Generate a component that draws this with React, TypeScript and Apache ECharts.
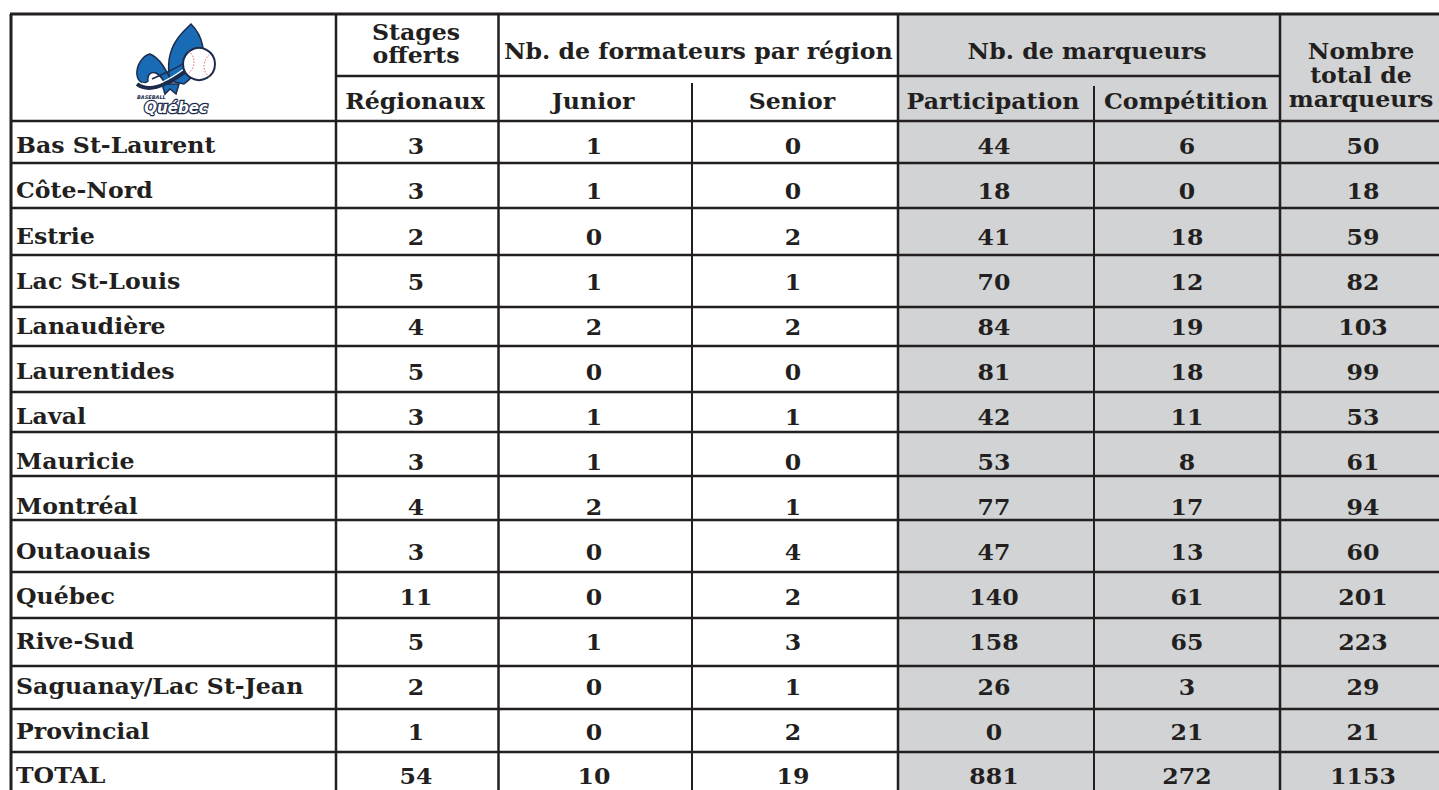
import React, { useEffect, useRef } from 'react';
import * as echarts from 'echarts';

// ---------- data ----------
const regions = [
  'Bas St-Laurent', 'Côte-Nord', 'Estrie', 'Lac St-Louis', 'Lanaudière', 'Laurentides', 'Laval',
  'Mauricie', 'Montréal', 'Outaouais', 'Québec', 'Rive-Sud', 'Saguanay/Lac St-Jean', 'Provincial',
];
const stagesRegionaux = [3, 3, 2, 5, 4, 5, 3, 3, 4, 3, 11, 5, 2, 1];
const formateursJunior = [1, 1, 0, 1, 2, 0, 1, 1, 2, 0, 0, 1, 0, 0];
const formateursSenior = [0, 0, 2, 1, 2, 0, 1, 0, 1, 4, 2, 3, 1, 2];
const marqueursParticipation = [44, 18, 41, 70, 84, 81, 42, 53, 77, 47, 140, 158, 26, 0];
const marqueursCompetition = [6, 0, 18, 12, 19, 18, 11, 8, 17, 13, 61, 65, 3, 21];
const nombreTotalMarqueurs = [50, 18, 59, 82, 103, 99, 53, 61, 94, 60, 201, 223, 29, 21];
const totalLabel = 'TOTAL';
const totalRow = [54, 10, 19, 881, 272, 1153];

const groupHeaders = ['Stages\nofferts', 'Nb. de formateurs par région', 'Nb. de marqueurs', 'Nombre\ntotal de\nmarqueurs'];
const subHeaders = ['Régionaux', 'Junior', 'Senior', 'Participation', 'Compétition'];

// ---------- layout ----------
const W = 1439;
const H = 790;
const INK = '#231f20';
const GREY = '#d1d3d4';
const NAVY = '#1c2b4b';
const BLUE = '#1a6bb5';
const FONT = 'bold 22px "DejaVu Serif", "Liberation Serif", serif';
const STRETCH = 1.075;

const TOP = 14;
const LEFT = 11;
const HEAD_MID = 76;
const rowLines = [121, 163, 208, 255, 307, 346, 392, 432, 476, 520, 572, 618, 666, 709, 752];
const rowTextY = [145, 190, 236, 281, 326, 371, 416, 461, 506, 551, 596, 641, 686, 731];
const totalTextY = 776;
const colX = [336, 498.5, 692, 898, 1094, 1280];
const colCenters = [416, 594, 793, 994, 1187, 1363];

function buildGraphic() {
  const els: any[] = [];
  // grey block
  els.push({ type: 'rect', shape: { x: colX[3], y: TOP, width: W - colX[3] + 20, height: H }, style: { fill: GREY }, silent: true });

  const line = (x1: number, y1: number, x2: number, y2: number, lw = 2.5) =>
    els.push({ type: 'line', shape: { x1, y1, x2, y2 }, style: { stroke: INK, lineWidth: lw }, silent: true });

  // outer border
  line(LEFT - 1, TOP, W + 5, TOP, 3);
  line(LEFT, TOP, LEFT, H + 5, 3);
  // header middle line
  line(colX[0], HEAD_MID, colX[5], HEAD_MID, 2.5);
  // row lines
  rowLines.forEach((y) => line(LEFT, y, W + 5, y, 2.5));
  // vertical lines
  line(colX[0], TOP, colX[0], H + 5);
  line(colX[1], TOP, colX[1], H + 5);
  line(colX[2], 83, colX[2], H + 5, 2);
  line(colX[3], TOP, colX[3], H + 5);
  line(colX[4], 86, colX[4], H + 5, 2);
  line(colX[5], TOP, colX[5], H + 5);

  const text = (t: string | number, x: number, y: number, align = 'center', lineHeight = 22) =>
    els.push({
      type: 'text',
      x, y, scaleX: STRETCH,
      style: {
        text: String(t), x: 0, y: 0, font: FONT, fill: INK,
        align, verticalAlign: 'middle', textAlign: align, textVerticalAlign: 'middle', lineHeight,
      },
      silent: true,
    });

  // headers
  text(groupHeaders[0], colCenters[0], 44, 'center', 23);
  text(groupHeaders[1], (colX[1] + colX[3]) / 2, 51);
  text(groupHeaders[2], (colX[3] + colX[5]) / 2 - 2, 51);
  text(groupHeaders[3], 1361, 75, 'center', 24);
  subHeaders.forEach((s, i) => text(s, colCenters[i] - 1, 101));

  // body
  const cols = [stagesRegionaux, formateursJunior, formateursSenior, marqueursParticipation, marqueursCompetition, nombreTotalMarqueurs];
  regions.forEach((r, i) => {
    text(r, 16, rowTextY[i], 'left');
    cols.forEach((c, j) => text(c[i], colCenters[j], rowTextY[i] + 1));
  });
  text(totalLabel, 16, totalTextY - 1, 'left');
  totalRow.forEach((v, j) => text(v, colCenters[j], totalTextY));

  // ---- logo ----
  els.push({ type: 'qcPetalC', style: { fill: BLUE, stroke: NAVY, lineWidth: 1.5 }, silent: true });
  els.push({ type: 'qcPetalL', style: { fill: BLUE, stroke: NAVY, lineWidth: 1.5 }, silent: true });
  els.push({ type: 'qcFoot', style: { fill: BLUE, stroke: NAVY, lineWidth: 1.5 }, silent: true });
  els.push({ type: 'bezierCurve', shape: { x1: 137, y1: 84, cpx1: 150, cpy1: 94, cpx2: 170, cpy2: 83, x2: 186, y2: 71 }, style: { stroke: NAVY, lineWidth: 4, fill: 'none' }, silent: true });
  els.push({ type: 'bezierCurve', shape: { x1: 142, y1: 83, cpx1: 154, cpy1: 89, cpx2: 170, cpy2: 79, x2: 184, y2: 69 }, style: { stroke: '#ffffff', lineWidth: 1.2, fill: 'none' }, silent: true });
  els.push({ type: 'bezierCurve', shape: { x1: 152, y1: 79, cpx1: 160, cpy1: 75, cpx2: 172, cpy2: 71, x2: 184, y2: 63 }, style: { stroke: NAVY, lineWidth: 1.5, fill: 'none' }, silent: true });
  els.push({ type: 'circle', shape: { cx: 199, cy: 64, r: 16 }, style: { fill: '#ffffff', stroke: NAVY, lineWidth: 2 }, silent: true });
  els.push({ type: 'arc', shape: { cx: 180, cy: 62, r: 14, startAngle: -0.9, endAngle: 0.9 }, style: { stroke: '#e0605e', lineWidth: 1, lineDash: [1.5, 1.5], fill: 'none' }, silent: true });
  els.push({ type: 'arc', shape: { cx: 218, cy: 66, r: 14, startAngle: Math.PI - 0.9, endAngle: Math.PI + 0.9 }, style: { stroke: '#e0605e', lineWidth: 1, lineDash: [1.5, 1.5], fill: 'none' }, silent: true });
  els.push({ type: 'text', style: { text: 'BASEBALL', x: 137, y: 97, font: 'italic bold 5px "DejaVu Sans", sans-serif', fill: NAVY, verticalAlign: 'middle', textVerticalAlign: 'middle' }, silent: true });
  els.push({ type: 'text', style: { text: 'Québec', x: 176, y: 108, font: 'italic bold 15px "DejaVu Sans", sans-serif', fill: '#ffffff', stroke: NAVY, lineWidth: 2.5, align: 'center', verticalAlign: 'middle', textAlign: 'center', textVerticalAlign: 'middle' }, silent: true });

  return els;
}

let registered = false;
function registerLogo() {
  if (registered) return;
  registered = true;
  const g: any = (echarts as any).graphic;
  g.registerShape('qcPetalC', g.extendPath('M191,24 C203,36 207,54 199,68 C195,74 189,80 184,84 L170,81 C167,66 169,52 176,41 C180,34 186,29 191,24 Z', {}));
  g.registerShape('qcPetalL', g.extendPath('M172,82 C166,70 160,58 150,54 C142,56 136,66 137,75 C138,82 144,85 148,81 C147,75 151,71 156,73 C161,76 164,81 165,85 Z', {}));
  g.registerShape('qcFoot', g.extendPath('M162,84 L165,94 L170,89 L176,94 L179,84 Z', {}));
}

export default function App() {
  const ref = useRef<HTMLDivElement>(null);
  useEffect(() => {
    document.body.style.margin = '0';
    registerLogo();
    const chart = echarts.init(ref.current!, undefined, { renderer: 'svg' });
    chart.setOption({
      animation: false,
      backgroundColor: '#ffffff',
      graphic: { elements: buildGraphic() },
    });
    return () => chart.dispose();
  }, []);
  return <div ref={ref} style={{ width: W, height: H }} />;
}
